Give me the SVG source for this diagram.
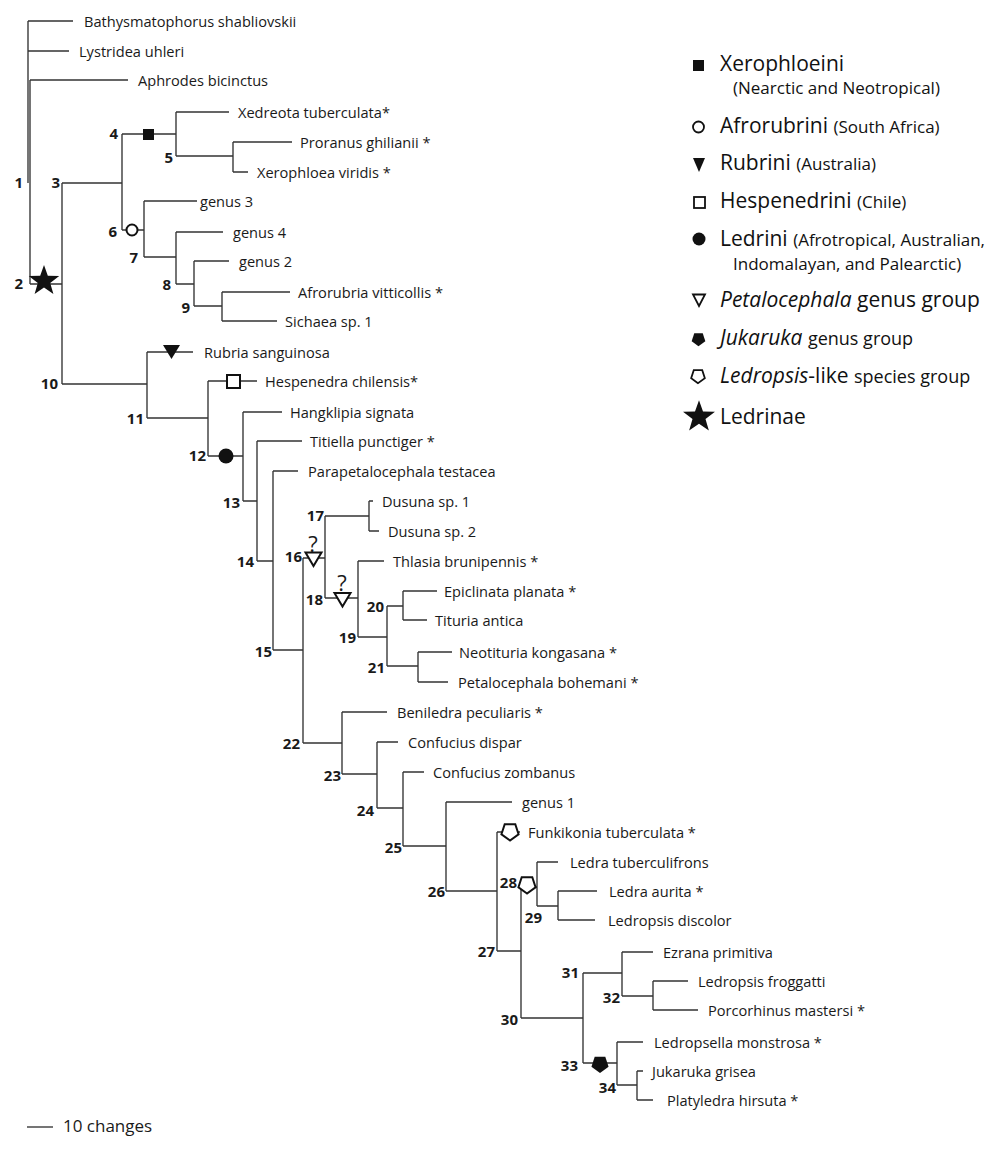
<svg xmlns="http://www.w3.org/2000/svg" width="1008" height="1149" viewBox="0 0 1008 1149">
<style>
.ln{stroke:#333;stroke-width:1.35;fill:none}
.lf{font-family:"Open Sans","Liberation Sans",sans-serif;font-size:14.6px;fill:#1a1a1a}
.nl{font-family:"Open Sans","Liberation Sans",sans-serif;font-size:15px;font-weight:bold;fill:#1a1a1a;text-anchor:end}
.q{font-family:"Open Sans","Liberation Sans",sans-serif;font-size:22px;fill:#1a1a1a;text-anchor:middle}
.lg{font-family:"Open Sans","Liberation Sans",sans-serif;font-size:21px;fill:#111}
.lgs{font-size:17px}
.it{font-style:italic}
.fill{fill:#111;stroke:none}
.open{fill:#fff;stroke:#111;stroke-width:2}
</style>
<defs>
<path id="star" d="M0,-16 L3.82,-5.26 L15.22,-4.94 L6.18,2.01 L9.40,12.94 L0,6.5 L-9.40,12.94 L-6.18,2.01 L-15.22,-4.94 L-3.82,-5.26 Z"/>
<path id="pent" d="M0,9 L-8.56,2.78 L-5.29,-7.28 L5.29,-7.28 L8.56,2.78 Z"/>
</defs>
<rect width="1008" height="1149" fill="#fff"/>
<g id="connectors" class="ln">
<path d="M28 21V183M28 21H73M28 51H69M30 80V284M30 80H128M30 284H62"/>
<path d="M62 183V384M62 183H122M122 134V230M122 134H176M176 112V156M176 112H229M176 156H233M233 142V172M233 142H292M233 172H248"/>
<path d="M122 230H144M144 201V257M144 201H197M144 257H176M176 232V284M176 232H223M176 284H194M194 261V306M194 261H229M194 306H222M222 292V321M222 292H290M222 321H277"/>
<path d="M62 384H147M147 352V418M147 352H193M147 418H208M208 381V456M208 381H257M208 456H243M243 412V501M243 412H282M243 501H257M257 441V561M257 441H302M257 561H273M273 471V650M273 471H298M273 650H303"/>
<path d="M303 558V743M303 558H325M325 516V598M325 516H369M369 501V531M369 501H373M369 531H379M325 598H358M358 561V637M358 561H384M358 637H387M387 606V666M387 606H403M403 591V620M403 591H437M403 620H427M387 666H418M418 652V682M418 652H452M418 682H448"/>
<path d="M303 743H342M342 712V774M342 712H387M342 774H377M377 742V808M377 742H398M377 808H403M403 772V846M403 772H424M403 846H446M446 802V891M446 802H512M446 891H497M497 832V951M497 832H520M497 951H521"/>
<path d="M521 887V1018M521 887H537M537 862V906M537 862H558M537 906H558M558 891V920M558 891H597M558 920H595"/>
<path d="M521 1018H583M583 973V1063M583 973H622M622 952V996M622 952H653M622 996H653M653 981V1010M653 981H688M653 1010H698M583 1063H617M617 1042V1085M617 1042H643M617 1085H637M637 1071V1100M637 1071H643M637 1100H653"/>
<path d="M27 1127H53"/>
</g>
<g id="leaves" class="lf">
<g id="leaf-bathysmatophorus"><text x="84" y="27">Bathysmatophorus shabliovskii</text></g>
<g id="leaf-lystridea"><text x="79" y="57">Lystridea uhleri</text></g>
<g id="leaf-aphrodes"><text x="138" y="86">Aphrodes bicinctus</text></g>
<g id="leaf-xedreota"><text x="238" y="118">Xedreota tuberculata*</text></g>
<g id="leaf-proranus"><text x="300" y="148">Proranus ghilianii *</text></g>
<g id="leaf-xerophloea"><text x="257" y="178">Xerophloea viridis *</text></g>
<g id="leaf-genus3"><text x="200" y="207">genus 3</text></g>
<g id="leaf-genus4"><text x="233" y="238">genus 4</text></g>
<g id="leaf-genus2"><text x="239" y="267">genus 2</text></g>
<g id="leaf-afrorubria"><text x="298" y="298">Afrorubria vitticollis *</text></g>
<g id="leaf-sichaea"><text x="285" y="327">Sichaea sp. 1</text></g>
<g id="leaf-rubria"><text x="204" y="358">Rubria sanguinosa</text></g>
<g id="leaf-hespenedra"><text x="265" y="387">Hespenedra chilensis*</text></g>
<g id="leaf-hangklipia"><text x="290" y="418">Hangklipia signata</text></g>
<g id="leaf-titiella"><text x="310" y="447">Titiella punctiger *</text></g>
<g id="leaf-parapetalocephala"><text x="308" y="477">Parapetalocephala testacea</text></g>
<g id="leaf-dusuna1"><text x="382" y="507">Dusuna sp. 1</text></g>
<g id="leaf-dusuna2"><text x="388" y="537">Dusuna sp. 2</text></g>
<g id="leaf-thlasia"><text x="393" y="567">Thlasia brunipennis *</text></g>
<g id="leaf-epiclinata"><text x="444" y="597">Epiclinata planata *</text></g>
<g id="leaf-tituria"><text x="435" y="626">Tituria antica</text></g>
<g id="leaf-neotituria"><text x="459" y="658">Neotituria kongasana *</text></g>
<g id="leaf-petalocephala"><text x="458" y="688">Petalocephala bohemani *</text></g>
<g id="leaf-beniledra"><text x="397" y="718">Beniledra peculiaris *</text></g>
<g id="leaf-confucius-dispar"><text x="408" y="748">Confucius dispar</text></g>
<g id="leaf-confucius-zombanus"><text x="433" y="778">Confucius zombanus</text></g>
<g id="leaf-genus1"><text x="522" y="808">genus 1</text></g>
<g id="leaf-funkikonia"><text x="528" y="838">Funkikonia tuberculata *</text></g>
<g id="leaf-ledra-tuberculifrons"><text x="570" y="868">Ledra tuberculifrons</text></g>
<g id="leaf-ledra-aurita"><text x="609" y="897">Ledra aurita *</text></g>
<g id="leaf-ledropsis-discolor"><text x="608" y="926">Ledropsis discolor</text></g>
<g id="leaf-ezrana"><text x="663" y="958">Ezrana primitiva</text></g>
<g id="leaf-ledropsis-froggatti"><text x="698" y="987">Ledropsis froggatti</text></g>
<g id="leaf-porcorhinus"><text x="708" y="1016">Porcorhinus mastersi *</text></g>
<g id="leaf-ledropsella"><text x="654" y="1048">Ledropsella monstrosa *</text></g>
<g id="leaf-jukaruka"><text x="652" y="1077">Jukaruka grisea</text></g>
<g id="leaf-platyledra"><text x="667" y="1106">Platyledra hirsuta *</text></g>
</g>
<g id="node-labels" class="nl">
<g id="n1"><text x="23" y="188">1</text></g>
<g id="n2"><text x="23" y="289">2</text></g>
<g id="n3"><text x="60" y="188">3</text></g>
<g id="n4"><text x="118" y="139">4</text></g>
<g id="n5"><text x="173" y="163">5</text></g>
<g id="n6"><text x="117" y="237">6</text></g>
<g id="n7"><text x="138" y="263">7</text></g>
<g id="n8"><text x="171" y="290">8</text></g>
<g id="n9"><text x="190" y="313">9</text></g>
<g id="n10"><text x="58" y="389">10</text></g>
<g id="n11"><text x="144" y="424">11</text></g>
<g id="n12"><text x="206" y="461">12</text></g>
<g id="n13"><text x="240" y="508">13</text></g>
<g id="n14"><text x="254" y="567">14</text></g>
<g id="n15"><text x="272" y="657">15</text></g>
<g id="n16"><text x="302" y="562">16</text></g>
<g id="n17"><text x="324" y="521">17</text></g>
<g id="n18"><text x="323" y="605">18</text></g>
<g id="n19"><text x="356" y="643">19</text></g>
<g id="n20"><text x="384" y="612">20</text></g>
<g id="n21"><text x="385" y="673">21</text></g>
<g id="n22"><text x="300" y="749">22</text></g>
<g id="n23"><text x="341" y="781">23</text></g>
<g id="n24"><text x="374" y="816">24</text></g>
<g id="n25"><text x="402" y="853">25</text></g>
<g id="n26"><text x="445" y="897">26</text></g>
<g id="n27"><text x="495" y="957">27</text></g>
<g id="n28"><text x="517" y="888">28</text></g>
<g id="n29"><text x="542" y="923">29</text></g>
<g id="n30"><text x="518" y="1025">30</text></g>
<g id="n31"><text x="579" y="978">31</text></g>
<g id="n32"><text x="620" y="1003">32</text></g>
<g id="n33"><text x="578" y="1071">33</text></g>
<g id="n34"><text x="616" y="1093">34</text></g>
</g>
<g id="tree-markers">
<g id="m-ledrinae"><use href="#star" x="44" y="281" class="fill"/></g>
<g id="m-xerophloeini"><rect x="143" y="129" width="11" height="11" class="fill"/></g>
<g id="m-afrorubrini"><circle cx="132" cy="230" r="5.5" class="open"/></g>
<g id="m-rubrini"><polygon points="163,345 180,345 171.5,359" class="fill"/></g>
<g id="m-hespenedrini"><rect x="227" y="375" width="13" height="13" class="open"/></g>
<g id="m-ledrini"><circle cx="226" cy="456" r="7.5" class="fill"/></g>
<g id="m-petalo16"><polygon points="305.5,552.5 321.5,552.5 313.5,566" class="open"/><text x="313" y="552" class="q">?</text></g>
<g id="m-petalo18"><polygon points="334.5,593 350.5,593 342.5,606.5" class="open"/><text x="342" y="591" class="q">?</text></g>
<g id="m-ledropsis-funk"><use href="#pent" x="510" y="831.5" class="open"/></g>
<g id="m-ledropsis-28"><use href="#pent" x="527" y="884.5" class="open"/></g>
<g id="m-jukaruka"><use href="#pent" x="600" y="1064" class="fill"/></g>
</g>
<g id="scale"><text x="63" y="1132" class="lf" style="font-size:17px">10 changes</text></g>
<g id="legend" class="lg">
<g id="lg-xerophloeini"><rect x="693" y="60" width="11" height="11" class="fill"/><text x="720" y="71">Xerophloeini</text><text x="733" y="94" class="lgs">(Nearctic and Neotropical)</text></g>
<g id="lg-afrorubrini"><circle cx="698.5" cy="127" r="5.5" class="open" style="stroke-width:1.8"/><text x="720" y="133">Afrorubrini <tspan class="lgs">(South Africa)</tspan></text></g>
<g id="lg-rubrini"><polygon points="693,158 705,158 699,172" class="fill"/><text x="720" y="170">Rubrini <tspan class="lgs">(Australia)</tspan></text></g>
<g id="lg-hespenedrini"><rect x="694" y="197" width="11" height="11" class="open" style="stroke-width:1.8"/><text x="720" y="208">Hespenedrini <tspan class="lgs">(Chile)</tspan></text></g>
<g id="lg-ledrini"><circle cx="699" cy="239" r="6.5" class="fill"/><text x="720" y="246">Ledrini <tspan class="lgs">(Afrotropical, Australian,</tspan></text><text x="733" y="270" class="lgs">Indomalayan, and Palearctic)</text></g>
<g id="lg-petalocephala"><polygon points="693,294.5 705,294.5 699,306" class="open" style="stroke-width:1.8"/><text x="720" y="307"><tspan class="it">Petalocephala</tspan> genus group</text></g>
<g id="lg-jukaruka"><use href="#pent" x="698.5" y="339" class="fill" transform="translate(698.5 339) scale(0.8) translate(-698.5 -339)"/><text x="720" y="345"><tspan class="it">Jukaruka</tspan> <tspan style="font-size:18px">genus group</tspan></text></g>
<g id="lg-ledropsis"><use href="#pent" x="698" y="376" class="open" style="stroke-width:2.2" transform="translate(698 376) scale(0.8) translate(-698 -376)"/><text x="720" y="383"><tspan class="it">Ledropsis</tspan>-like <tspan style="font-size:18px">species group</tspan></text></g>
<g id="lg-ledrinae"><use href="#star" x="699" y="417" class="fill" transform="translate(699 417) scale(1.05) translate(-699 -417)"/><text x="720" y="424">Ledrinae</text></g>
</g>
</svg>
